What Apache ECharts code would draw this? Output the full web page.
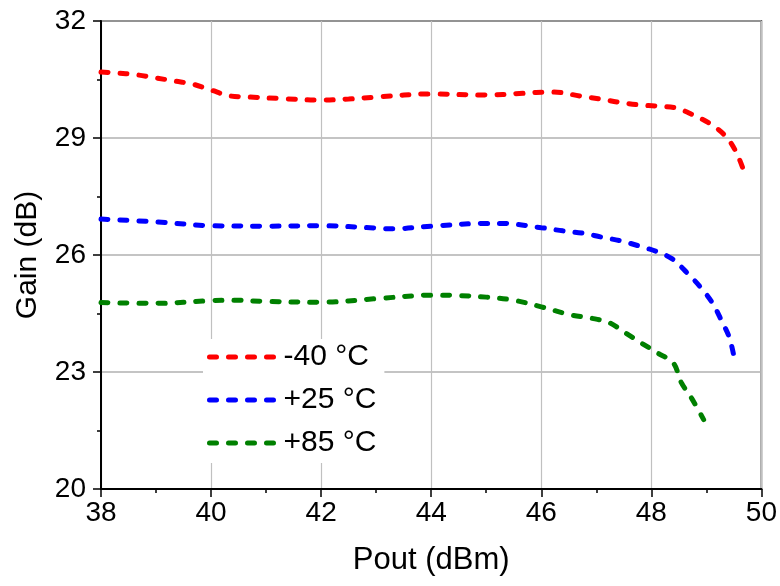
<!DOCTYPE html>
<html>
<head>
<meta charset="utf-8">
<script src="https://cdn.jsdelivr.net/npm/echarts@6/dist/echarts.min.js"></script>
<style>html,body{margin:0;padding:0;background:#fff}#c{width:780px;height:586px}</style>
</head>
<body>
<div id="c"></div>
<script>
var xTicks = [38, 40, 42, 44, 46, 48, 50];
var yTicks = [20, 23, 26, 29, 32];
var seriesNames = ['-40 °C', '+25 °C', '+85 °C'];

var poutM40 = [38, 38.25, 38.65, 39.0, 39.34, 39.67, 40.0, 40.34, 40.7, 41.3, 42, 42.5, 43, 44, 45, 45.6, 46.2, 46.73, 47.06, 47.4, 47.76, 48.09, 48.45, 48.76, 49.05, 49.34, 49.54, 49.7];
var gainM40 = [30.69, 30.67, 30.62, 30.54, 30.46, 30.38, 30.23, 30.08, 30.05, 30.01, 29.97, 30.0, 30.05, 30.13, 30.1, 30.14, 30.18, 30.07, 30.0, 29.92, 29.85, 29.82, 29.77, 29.59, 29.38, 29.06, 28.64, 28.08];

var pout25 = [38, 39, 40, 41, 42, 43, 43.3, 44, 45, 45.3, 46, 46.39, 46.75, 47.09, 47.45, 47.78, 48.11, 48.38, 48.65, 48.89, 49.11, 49.27, 49.42, 49.52];
var gain25 = [26.92, 26.85, 26.75, 26.74, 26.75, 26.69, 26.67, 26.74, 26.81, 26.81, 26.7, 26.62, 26.56, 26.46, 26.36, 26.23, 26.08, 25.9, 25.54, 25.18, 24.77, 24.33, 23.87, 23.26];

var pout85 = [38, 39, 40, 40.4, 41, 42, 43, 44, 44.5, 45, 45.5, 46, 46.55, 46.91, 47.24, 47.53, 47.82, 48.11, 48.4, 48.54, 48.73, 48.95];
var gain85 = [24.78, 24.76, 24.83, 24.84, 24.81, 24.79, 24.88, 24.97, 24.96, 24.92, 24.84, 24.67, 24.46, 24.38, 24.26, 24.0, 23.74, 23.49, 23.23, 22.74, 22.33, 21.78];

var colors = ['#ff0000', '#0000ff', '#008000'];

function zip(xs, ys) { return xs.map(function (x, i) { return [x, ys[i]]; }); }

var FONT = '"Liberation Sans", Arial, sans-serif';
var chart = echarts.init(document.getElementById('c'), null, { renderer: 'canvas' });

function mkSeries(name, xs, ys, color) {
  return {
    name: name, type: 'line', data: zip(xs, ys), smooth: 0.35, showSymbol: false, symbol: 'none',
    lineStyle: { color: color, width: 5, type: [7, 12], cap: 'round' },
    itemStyle: { color: color }
  };
}

chart.setOption({
  animation: false,
  backgroundColor: '#fff',
  grid: { left: 101, right: 18, top: 21, bottom: 97, show: true, borderColor: '#000', borderWidth: 1.5, backgroundColor: 'transparent' },
  legend: {
    orient: 'vertical', left: 203, top: 339,
    padding: [3, 8, 5, 4], itemGap: 13,
    backgroundColor: '#fff',
    itemWidth: 66, itemHeight: 14,
    itemStyle: { opacity: 0 },
    lineStyle: { width: 5, type: [7, 12], cap: 'round' },
    textStyle: { fontFamily: FONT, fontSize: 30, color: '#000', padding: [0, 0, 0, 3] },
    data: seriesNames
  },
  xAxis: {
    type: 'value', min: xTicks[0], max: xTicks[xTicks.length - 1], interval: 2,
    name: 'Pout (dBm)', nameLocation: 'middle', nameGap: 56,
    nameTextStyle: { fontFamily: FONT, fontSize: 31, color: '#000' },
    axisLine: { show: true, lineStyle: { color: '#000', width: 2 } },
    axisTick: { show: true, inside: false, length: 8, lineStyle: { color: '#000', width: 1.5 } },
    minorTick: { show: true, splitNumber: 2, length: 4, lineStyle: { color: '#000', width: 1.5 } },
    axisLabel: { fontFamily: FONT, fontSize: 28, color: '#000', margin: 10 },
    splitLine: { show: true, lineStyle: { color: '#c0c0c0', width: 1.2 } }
  },
  yAxis: {
    type: 'value', min: yTicks[0], max: yTicks[yTicks.length - 1], interval: 3,
    name: 'Gain (dB)', nameLocation: 'middle', nameGap: 58,
    nameTextStyle: { fontFamily: FONT, fontSize: 30, color: '#000' },
    axisLine: { show: true, lineStyle: { color: '#000', width: 2 } },
    axisTick: { show: true, inside: false, length: 8, lineStyle: { color: '#000', width: 1.5 } },
    minorTick: { show: true, splitNumber: 2, length: 4, lineStyle: { color: '#000', width: 1.5 } },
    axisLabel: { fontFamily: FONT, fontSize: 28, color: '#000', margin: 15 },
    splitLine: { show: true, lineStyle: { color: '#b0b0b0', width: 1.5 } }
  },
  series: [
    mkSeries(seriesNames[0], poutM40, gainM40, colors[0]),
    mkSeries(seriesNames[1], pout25, gain25, colors[1]),
    mkSeries(seriesNames[2], pout85, gain85, colors[2])
  ]
});
</script>
</body>
</html>
